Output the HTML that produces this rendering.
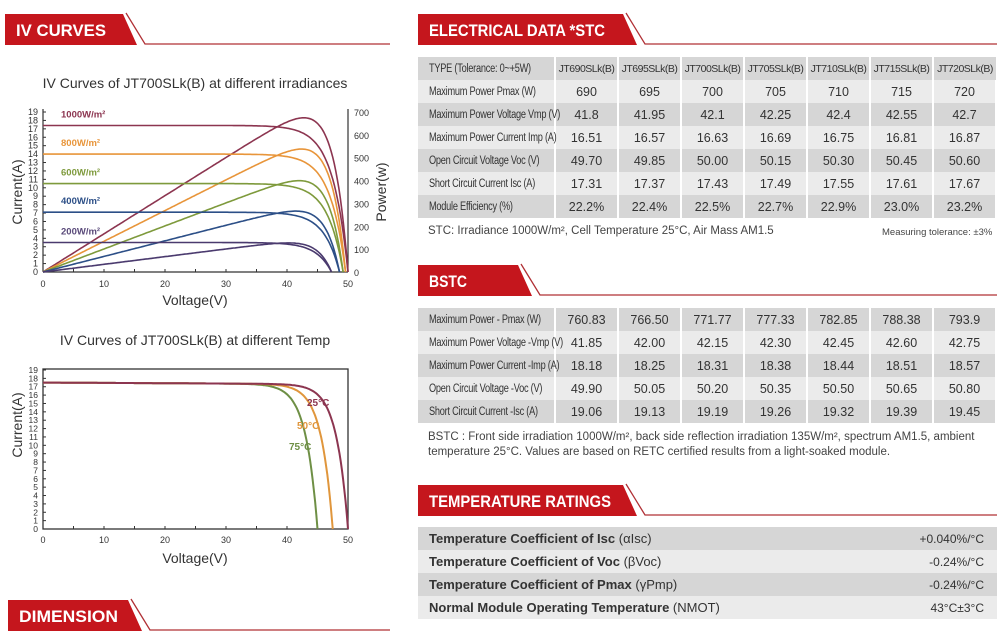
<!DOCTYPE html>
<html><head><meta charset="utf-8"><style>
body{margin:0;width:1000px;height:636px;background:#fff;overflow:hidden;font-family:"Liberation Sans",sans-serif;position:relative}
svg{position:absolute;left:0;top:0}
table{position:absolute;border-collapse:collapse;table-layout:fixed;font-family:"Liberation Sans",sans-serif;color:#333}
td{border-right:2px solid #fff;padding:0;text-align:center;font-size:12.5px;height:23px;white-space:nowrap;overflow:hidden}
td:first-child{text-align:left;padding-left:11px;font-size:11.5px;letter-spacing:-0.3px;overflow:visible}
td:first-child .sq{display:inline-block;transform:scaleX(0.8);transform-origin:left center}
tr.d td{background:#d6d6d6}
tr.l td{background:#ebebeb}
.note{position:absolute;font-size:11px;color:#444}
#t3 td{font-size:12px;text-align:right;padding-right:13px;letter-spacing:0;border-right:0}
#t3 td:first-child{text-align:left;font-size:13px;font-weight:bold;letter-spacing:0}
#t3 span{font-weight:normal}
</style></head><body>
<svg width="1000" height="636" id="s" font-family="Liberation Sans, sans-serif">
<g id="hdr"></g>
<g id="c1"></g>
<g id="c2"></g>
</svg>
<table id="t1" class="sqz" style="left:418px;top:57px;width:579px">
<colgroup><col style="width:137px"><col><col><col><col><col><col><col></colgroup>
<tr class="d"><td>TYPE (Tolerance: 0~+5W)</td><td style="font-size:10.5px;letter-spacing:-0.5px">JT690SLk(B)</td><td style="font-size:10.5px;letter-spacing:-0.5px">JT695SLk(B)</td><td style="font-size:10.5px;letter-spacing:-0.5px">JT700SLk(B)</td><td style="font-size:10.5px;letter-spacing:-0.5px">JT705SLk(B)</td><td style="font-size:10.5px;letter-spacing:-0.5px">JT710SLk(B)</td><td style="font-size:10.5px;letter-spacing:-0.5px">JT715SLk(B)</td><td style="font-size:10.5px;letter-spacing:-0.5px;border-right:0">JT720SLk(B)</td></tr>
<tr class="l"><td>Maximum Power Pmax (W)</td><td>690</td><td>695</td><td>700</td><td>705</td><td>710</td><td>715</td><td>720</td></tr>
<tr class="d"><td>Maximum Power Voltage Vmp (V)</td><td>41.8</td><td>41.95</td><td>42.1</td><td>42.25</td><td>42.4</td><td>42.55</td><td>42.7</td></tr>
<tr class="l"><td>Maximum Power Current Imp (A)</td><td>16.51</td><td>16.57</td><td>16.63</td><td>16.69</td><td>16.75</td><td>16.81</td><td>16.87</td></tr>
<tr class="d"><td>Open Circuit Voltage Voc (V)</td><td>49.70</td><td>49.85</td><td>50.00</td><td>50.15</td><td>50.30</td><td>50.45</td><td>50.60</td></tr>
<tr class="l"><td>Short Circuit Current Isc (A)</td><td>17.31</td><td>17.37</td><td>17.43</td><td>17.49</td><td>17.55</td><td>17.61</td><td>17.67</td></tr>
<tr class="d"><td>Module Efficiency (%)</td><td>22.2%</td><td>22.4%</td><td>22.5%</td><td>22.7%</td><td>22.9%</td><td>23.0%</td><td>23.2%</td></tr>
</table>
<div class="note" style="left:428px;top:225px;font-size:11.5px">STC: Irradiance 1000W/m², Cell Temperature 25°C, Air Mass AM1.5</div>
<div class="note" style="left:882px;top:227px;font-size:9.5px">Measuring tolerance: ±3%</div>
<table id="t2" class="sqz" style="left:418px;top:308px;width:579px">
<colgroup><col style="width:137px"><col><col><col><col><col><col><col></colgroup>
<tr class="d"><td>Maximum Power - Pmax (W)</td><td>760.83</td><td>766.50</td><td>771.77</td><td>777.33</td><td>782.85</td><td>788.38</td><td>793.9</td></tr>
<tr class="l"><td>Maximum Power Voltage -Vmp (V)</td><td>41.85</td><td>42.00</td><td>42.15</td><td>42.30</td><td>42.45</td><td>42.60</td><td>42.75</td></tr>
<tr class="d"><td>Maximum Power Current -Imp (A)</td><td>18.18</td><td>18.25</td><td>18.31</td><td>18.38</td><td>18.44</td><td>18.51</td><td>18.57</td></tr>
<tr class="l"><td>Open Circuit Voltage -Voc (V)</td><td>49.90</td><td>50.05</td><td>50.20</td><td>50.35</td><td>50.50</td><td>50.65</td><td>50.80</td></tr>
<tr class="d"><td>Short Circuit Current -Isc (A)</td><td>19.06</td><td>19.13</td><td>19.19</td><td>19.26</td><td>19.32</td><td>19.39</td><td>19.45</td></tr>
</table>
<div class="note" style="left:428px;top:430px;font-size:11.5px;line-height:15px;width:570px">BSTC : Front side irradiation 1000W/m², back side reflection irradiation 135W/m², spectrum AM1.5, ambient temperature 25°C. Values are based on RETC certified results from a light-soaked module.</div>
<table id="t3" style="left:418px;top:527px;width:579px">
<colgroup><col style="width:470px"><col></colgroup>
<tr class="d"><td>Temperature Coefficient of Isc <span>(αIsc)</span></td><td>+0.040%/°C</td></tr>
<tr class="l"><td>Temperature Coefficient of Voc <span>(βVoc)</span></td><td>-0.24%/°C</td></tr>
<tr class="d"><td>Temperature Coefficient of Pmax <span>(γPmp)</span></td><td>-0.24%/°C</td></tr>
<tr class="l"><td>Normal Module Operating Temperature <span>(NMOT)</span></td><td>43°C±3°C</td></tr>
</table>
<script>
document.querySelectorAll('table.sqz td:first-child').forEach(function(td){td.innerHTML='<span class="sq">'+td.innerHTML+'</span>';});
var NS="http://www.w3.org/2000/svg";
function el(p,t,a,txt){var e=document.createElementNS(NS,t);for(var k in a)e.setAttribute(k,a[k]);if(txt!=null)e.textContent=txt;p.appendChild(e);return e;}
var H=document.getElementById('hdr');
function banner(x,y,w,endx,label,tl){
 el(H,'polygon',{points:x+','+y+' '+(x+w)+','+y+' '+(x+w+14)+','+(y+31)+' '+x+','+(y+31),fill:'#c5161d'});
 el(H,'polyline',{points:(x+w+3)+','+(y-1)+' '+(x+w+22)+','+(y+30)+' '+endx+','+(y+30),fill:'none',stroke:'#b03035','stroke-width':1.3});
 el(H,'text',{x:x+11,y:y+22,fill:'#fff','font-size':17,'font-weight':'bold',textLength:tl,lengthAdjust:'spacingAndGlyphs'},label);
}
banner(5,14,118,390,'IV CURVES',90);
banner(418,14,205,997,'ELECTRICAL DATA *STC',176);
banner(418,265,100,997,'BSTC',38);
banner(418,485,205,997,'TEMPERATURE RATINGS',182);
banner(8,600,120,390,'DIMENSION',99);

function iv(V,isc,voc,a){var i=isc*(1-Math.exp((V-voc)/a));return i<0?0:i;}
var C=document.getElementById('c1');
var x0=43,x1=348,y0=272,yt=112;
function X(v){return x0+v*(x1-x0)/50;}
function Y(i){return y0-i*(y0-yt)/19;}
function P(p){return y0-p*(y0-yt)/700;}
el(C,'text',{x:195,y:88,'text-anchor':'middle','font-size':14,fill:'#333'},'IV Curves of JT700SLk(B) at different irradiances');
el(C,'line',{x1:x0,y1:yt-3,x2:x0,y2:y0,stroke:'#333','stroke-width':1.2});
el(C,'line',{x1:x0,y1:y0,x2:x1,y2:y0,stroke:'#333','stroke-width':1.2});
el(C,'line',{x1:x1,y1:yt-3,x2:x1,y2:y0,stroke:'#333','stroke-width':1.2});
for(var i=0;i<=19;i++){el(C,'text',{x:38,y:Y(i)+3,'text-anchor':'end','font-size':9,fill:'#333'},i);el(C,'line',{x1:x0,y1:Y(i),x2:x0+3,y2:Y(i),stroke:'#333'});}
for(var p=0;p<=700;p+=100){el(C,'text',{x:354,y:P(p)+4,'font-size':9,fill:'#333'},p);}
for(var v=0;v<=50;v+=10){el(C,'text',{x:X(v),y:287,'text-anchor':'middle','font-size':9,fill:'#333'},v);}
for(var v=0;v<=50;v+=5){el(C,'line',{x1:X(v),y1:y0,x2:X(v),y2:y0-3,stroke:'#333'});}
el(C,'text',{x:195,y:305,'text-anchor':'middle','font-size':14,fill:'#333'},'Voltage(V)');
el(C,'text',{transform:'translate(22,192) rotate(-90)','text-anchor':'middle','font-size':14,fill:'#333'},'Current(A)');
el(C,'text',{transform:'translate(386,192) rotate(-90)','text-anchor':'middle','font-size':14,fill:'#333'},'Power(w)');
var S=[[17.4,50,'#8c3550','1000W/m²','#8c3550'],[14.0,49.6,'#e8953a','800W/m²','#e8953a'],[10.5,49.2,'#7e9a3c','600W/m²','#7e9a3c'],[7.1,48.6,'#2c4f87','400W/m²','#2c4f87'],[3.5,47.3,'#4a3a6e','200W/m²','#5a4a7a']];
S.forEach(function(s){
 var a=2.5,d1='',d2='';
 for(var v=0;v<=s[1];v+=0.25){var i=iv(v,s[0],s[1],a);d1+=(v?'L':'M')+X(v).toFixed(1)+','+Y(i).toFixed(1);d2+=(v?'L':'M')+X(v).toFixed(1)+','+P(v*i*0.96).toFixed(1);}
 d1+='L'+X(s[1])+','+y0;d2+='L'+X(s[1])+','+y0;
 el(C,'path',{d:d1,fill:'none',stroke:s[2],'stroke-width':1.6});
 el(C,'path',{d:d2,fill:'none',stroke:s[2],'stroke-width':1.6});
 el(C,'text',{x:61,y:Y(s[0])-8,'font-size':9.5,fill:s[4],'font-weight':'bold'},s[3]);
});
var D=document.getElementById('c2');
var b0=529,bt=370;
function Y2(i){return b0-i*(b0-bt)/19;}
el(D,'text',{x:195,y:345,'text-anchor':'middle','font-size':14,fill:'#333'},'IV Curves of JT700SLk(B) at different Temp');
el(D,'rect',{x:x0,y:369,width:x1-x0,height:b0-369,fill:'none',stroke:'#333','stroke-width':1.3});
for(var i=0;i<=19;i++){el(D,'text',{x:38,y:Y2(i)+3,'text-anchor':'end','font-size':8.5,fill:'#333'},i);el(D,'line',{x1:x0,y1:Y2(i),x2:x0+3,y2:Y2(i),stroke:'#333'});}
for(var v=0;v<=50;v+=10){el(D,'text',{x:X(v),y:543,'text-anchor':'middle','font-size':9,fill:'#333'},v);}
for(var v=0;v<=50;v+=5){el(D,'line',{x1:X(v),y1:b0,x2:X(v),y2:b0-3,stroke:'#333'});}
el(D,'text',{x:195,y:563,'text-anchor':'middle','font-size':14,fill:'#333'},'Voltage(V)');
el(D,'text',{transform:'translate(22,425) rotate(-90)','text-anchor':'middle','font-size':14,fill:'#333'},'Current(A)');
[[45,'#6e8f45','75°C',289,450],[47.5,'#e0963c','50°C',297,429],[50,'#8c3550','25°C',307,406]].forEach(function(s){
 var d='';for(var v=0;v<=s[0];v+=0.2){var i=iv(v,17.5-v*0.004,s[0],1.9);d+=(v?'L':'M')+X(v).toFixed(1)+','+Y2(i).toFixed(1);}
 d+='L'+X(s[0])+','+b0;
 el(D,'path',{d:d,fill:'none',stroke:s[1],'stroke-width':2});
 el(D,'text',{x:s[3],y:s[4],'font-size':10,'font-weight':'bold',fill:s[1]},s[2]);
});
</script>
</body></html>
